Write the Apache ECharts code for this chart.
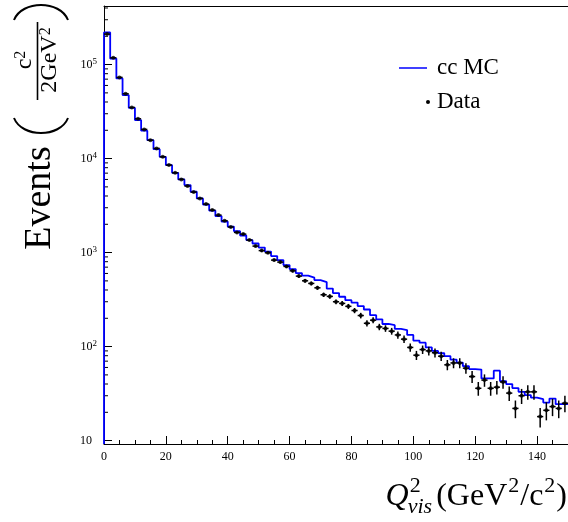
<!DOCTYPE html>
<html>
<head>
<meta charset="utf-8">
<script src="https://cdn.jsdelivr.net/npm/echarts@6/dist/echarts.min.js"></script>
<style>
  html, body { margin: 0; padding: 0; background: #fff; }
  #chart { width: 568px; height: 522px; }
</style>
</head>
<body>
<div id="chart"></div>
<script>
// Q2_vis histogram, 2 GeV^2/c^2 bins from 0 to 150
const binWidth = 2;
const xMin = 0, xMax = 150;
const yMin = 9.2, yMax = 4.2e5;

// cc MC (blue step histogram), one value per bin
const mcCounts = [220000, 116000, 71300, 47400, 34700, 25700, 19800, 15700, 12600, 10450,
  8530, 7060, 6010, 5230, 4440, 3770, 3240, 2800, 2445, 2140,
  1890, 1690, 1520, 1360, 1250, 1130, 1025, 918, 832, 736,
  667, 605, 569, 542, 510, 486, 414, 371, 339, 312,
  294, 270, 248, 216, 195, 174, 169, 154, 150, 133,
  116, 110, 98, 90, 85.3, 79.2, 72.7, 67.6, 62.0, 57.6,
  56.9, 45.9, 45.9, 55.5, 43.0, 39.9, 36.2, 33.0, 30.5, 28.7,
  27.6, 25.4, 28.0, 24.4, 24.4];

// Data (black points)
const dataCounts = [211000, 118100, 73100, 48900, 35000, 26500, 20450, 15700, 12840, 10450,
  8530, 7060, 6010, 5100, 4400, 3770, 3280, 2830, 2505, 2180,
  1870, 1640, 1573, 1360, 1172, 1050, 995, 832, 792, 713,
  640, 562, 501, 470, 422, 356, 342, 300, 288, 268,
  242, 214, 177, 191, 162, 156, 146, 133, 120, 98,
  81, 93, 90, 86, 79, 64, 67, 67, 59, 48,
  36, 44, 36, 37, 42, 32, 22, 30, 33, 33,
  18, 21, 23, 22, 25];

// minor ticks on the log axis
const yMinorTicks = [20, 30, 40, 50, 60, 70, 80, 90,
  200, 300, 400, 500, 600, 700, 800, 900,
  2000, 3000, 4000, 5000, 6000, 7000, 8000, 9000,
  20000, 30000, 40000, 50000, 60000, 70000, 80000, 90000,
  200000, 300000, 400000];

const serif = '"Liberation Serif", "Times New Roman", serif';

// histogram outline: rises from the bottom at x=0, then steps at every bin edge
const mcLine = [[xMin, yMin]]
  .concat(mcCounts.map((v, i) => [i * binWidth, v]))
  .concat([[xMax, mcCounts[mcCounts.length - 1]]]);

const points = dataCounts.map((v, i) => [i * binWidth + binWidth / 2, v, Math.sqrt(v)]);

const chart = echarts.init(document.getElementById('chart'));

// text widths for hand-placed title pieces
const ctx = document.createElement('canvas').getContext('2d');
function textWidth(str, font) {
    ctx.font = font;
    return ctx.measureText(str).width;
}

// x axis title: Q^2_vis(GeV^2/c^2), right aligned at the canvas edge
function xTitle() {
    const big = 32, small = 22;
    const fBig = `${big}px ${serif}`, fBigI = `italic ${big}px ${serif}`;
    const fSmall = `${small}px ${serif}`, fSmallI = `italic ${small}px ${serif}`;
    const midY = 497, supY = 486, subY = 507;
    const pieces = [];
    const wQ = textWidth('Q', fBigI);
    const wScript = Math.max(textWidth('2', fSmall), textWidth('vis', fSmallI)) + 3;
    const w1 = textWidth('(GeV', fBig) + 1, w2 = textWidth('2', fSmall) + 1;
    const w3 = textWidth('/c', fBig) + 1, w4 = w2, w5 = textWidth(')', fBig);
    const total = wQ + wScript + w1 + w2 + w3 + w4 + w5;
    let x = 567 - total;
    const add = (str, font, px, py) => pieces.push({
        type: 'text', x: px, y: py,
        style: { text: str, font: font, fill: '#000', verticalAlign: 'middle' }
    });
    add('Q', fBigI, x, midY);
    add('2', fSmall, x + wQ + 1, supY);
    add('vis', fSmallI, x + wQ - 1, subY);
    x += wQ + wScript;
    add('(GeV', fBig, x, midY); x += w1;
    add('2', fSmall, x, supY); x += w2;
    add('/c', fBig, x, midY); x += w3;
    add('2', fSmall, x, supY); x += w4;
    add(')', fBig, x, midY);
    return pieces;
}

// y axis title: Events (c^2 / 2GeV^2), rotated
const yTitle = [
    {
        type: 'text', x: 40, y: 198, rotation: Math.PI / 2,
        style: { text: 'Events', font: `38px ${serif}`, fill: '#000', align: 'center', verticalAlign: 'middle' }
    },
    {
        type: 'bezierCurve',
        shape: { x1: 14, y1: 118, x2: 68, y2: 118, cpx1: 22, cpy1: 138, cpx2: 60, cpy2: 138 },
        style: { stroke: '#000', lineWidth: 2, fill: null }
    },
    {
        type: 'bezierCurve',
        shape: { x1: 14, y1: 20, x2: 68, y2: 20, cpx1: 22, cpy1: 0, cpx2: 60, cpy2: 0 },
        style: { stroke: '#000', lineWidth: 2, fill: null }
    },
    {
        type: 'line',
        shape: { x1: 37.5, y1: 22, x2: 37.5, y2: 100 },
        style: { stroke: '#000', lineWidth: 1.6 }
    },
    {
        type: 'text', x: 25, y: 60, rotation: Math.PI / 2,
        style: {
            text: '{m|c}{s|2}', align: 'center', verticalAlign: 'middle',
            rich: {
                m: { fontFamily: serif, fontSize: 24, lineHeight: 24, fill: '#000' },
                s: { fontFamily: serif, fontSize: 16, lineHeight: 16, verticalAlign: 'top', fill: '#000' }
            }
        }
    },
    {
        type: 'text', x: 50, y: 60, rotation: Math.PI / 2,
        style: {
            text: '{m|2GeV}{s|2}', align: 'center', verticalAlign: 'middle',
            rich: {
                m: { fontFamily: serif, fontSize: 24, lineHeight: 24, fill: '#000' },
                s: { fontFamily: serif, fontSize: 16, lineHeight: 16, verticalAlign: 'top', fill: '#000' }
            }
        }
    }
];

const legendItems = [
    { type: 'line', shape: { x1: 399, y1: 68, x2: 427, y2: 68 }, style: { stroke: '#0000ff', lineWidth: 1.5 } },
    { type: 'text', x: 437, y: 68, style: { text: 'cc MC', font: `23px ${serif}`, fill: '#000', verticalAlign: 'middle' } },
    { type: 'circle', shape: { cx: 428, cy: 102, r: 2 }, style: { fill: '#000' } },
    { type: 'text', x: 437, y: 102, style: { text: 'Data', font: `23px ${serif}`, fill: '#000', verticalAlign: 'middle' } }
];

const axisColor = '#000';

const option = {
    animation: false,
    backgroundColor: '#fff',
    grid: { left: 104, right: -3, top: 6, bottom: 78, containLabel: false },
    xAxis: [
        {
            type: 'value', min: xMin, max: xMax, interval: 20,
            axisLine: { show: true, onZero: false, lineStyle: { color: axisColor, width: 1 } },
            axisTick: { show: true, inside: true, length: 8, lineStyle: { color: axisColor } },
            minorTick: { show: true, splitNumber: 4, length: 4, lineStyle: { color: axisColor } },
            axisLabel: {
                showMaxLabel: false, margin: 7,
                fontFamily: serif, fontSize: 12, color: '#000'
            },
            splitLine: { show: false }
        },
        {
            type: 'value', position: 'top', min: xMin, max: xMax,
            axisLine: { show: true, onZero: false, lineStyle: { color: axisColor, width: 1 } },
            axisTick: { show: false }, axisLabel: { show: false }, splitLine: { show: false }
        }
    ],
    yAxis: {
        type: 'log', logBase: 10, min: yMin, max: yMax,
        axisLine: { show: true, onZero: false, lineStyle: { color: axisColor, width: 1 } },
        axisTick: { show: true, inside: true, length: 8, lineStyle: { color: axisColor } },
        axisLabel: {
            margin: 7,
            formatter: v => {
                const l = Math.log10(v), e = Math.round(l);
                if (Math.abs(l - e) > 1e-6) return '';
                return e === 1 ? '{b|10}{sp|}' : '{b|10}{sup|' + e + '}';
            },
            rich: {
                b: { fontFamily: serif, fontSize: 12, lineHeight: 15, color: '#000' },
                sup: { fontFamily: serif, fontSize: 9, lineHeight: 9, verticalAlign: 'top', color: '#000' },
                sp: { width: 5 }
            }
        },
        splitLine: { show: false }
    },
    series: [
        {
            name: 'cc MC',
            type: 'line',
            step: 'end',
            data: mcLine,
            showSymbol: false,
            lineStyle: { color: '#0000ff', width: 1.8 },
            z: 2
        },
        {
            // log-axis minor ticks
            type: 'custom',
            data: yMinorTicks.map(v => [xMin, v]),
            renderItem: (params, api) => {
                const p = api.coord([xMin, api.value(1)]);
                return {
                    type: 'line',
                    shape: { x1: p[0], y1: p[1], x2: p[0] + 4, y2: p[1] },
                    style: { stroke: axisColor, lineWidth: 1 }
                };
            },
            silent: true,
            z: 1
        },
        {
            // data error bars
            type: 'custom',
            data: points,
            renderItem: (params, api) => {
                const x = api.value(0), y = api.value(1), e = api.value(2);
                const top = api.coord([x, y + e]);
                const bot = api.coord([x, Math.max(y - e, yMin)]);
                const left = api.coord([x - binWidth / 2, y]);
                const right = api.coord([x + binWidth / 2, y]);
                return {
                    type: 'group',
                    children: [
                        { type: 'line', shape: { x1: top[0], y1: top[1], x2: bot[0], y2: bot[1] }, style: { stroke: '#000', lineWidth: 1.5 } },
                        { type: 'line', shape: { x1: left[0], y1: left[1], x2: right[0], y2: right[1] }, style: { stroke: '#000', lineWidth: 1.5 } }
                    ]
                };
            },
            z: 3
        },
        {
            name: 'Data',
            type: 'scatter',
            data: points.map(p => [p[0], p[1]]),
            symbol: 'circle',
            symbolSize: 4,
            itemStyle: { color: '#000' },
            z: 4
        }
    ],
    graphic: [].concat(yTitle, legendItems, xTitle())
};

chart.setOption(option);
</script>
</body>
</html>
